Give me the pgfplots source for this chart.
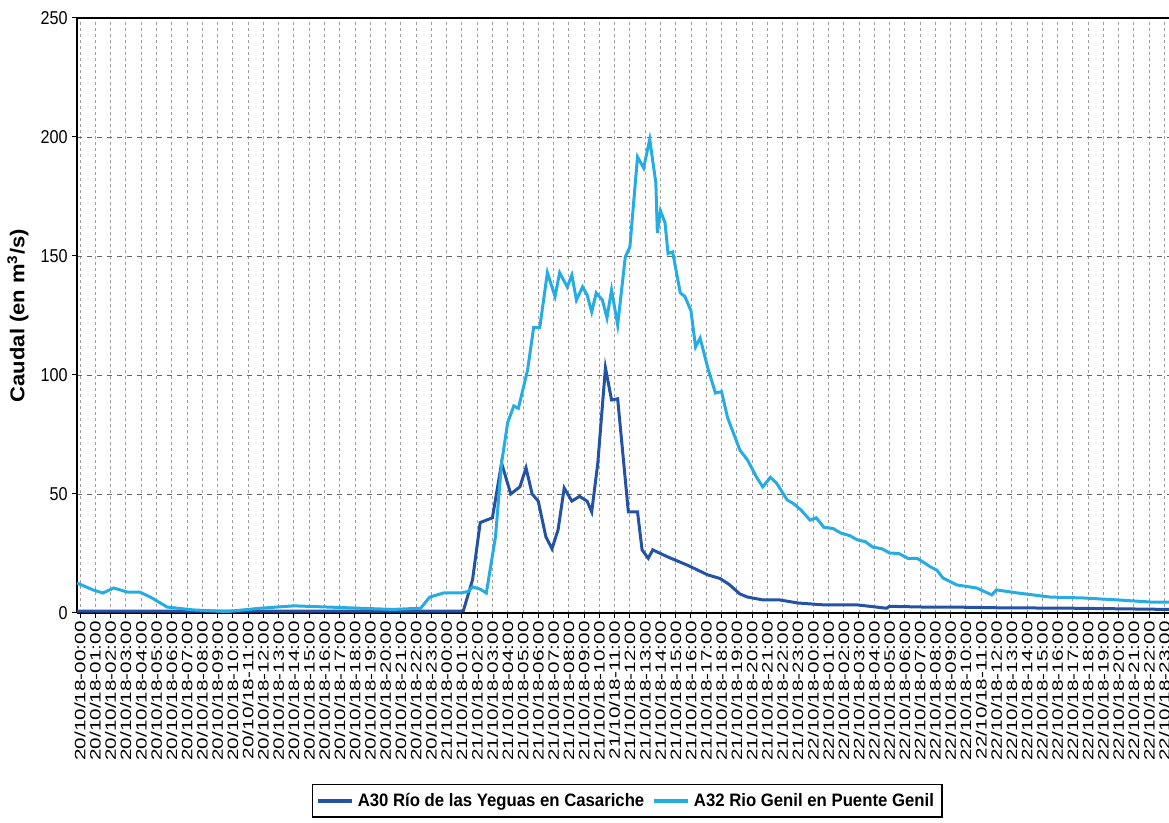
\documentclass[border=0pt]{standalone}
\usepackage{fontspec}
\setmainfont{Liberation Sans}
\newfontfamily\xlab[FakeStretch=1.38]{Liberation Sans}
\newfontfamily\ylab[FakeStretch=0.87]{Liberation Sans}
\newfontfamily\leg[FakeStretch=0.93]{Liberation Sans}
\newfontfamily\ytitle[FakeStretch=1.1]{Liberation Sans}
\usepackage{pgfplots}
\pgfplotsset{compat=1.18}
\definecolor{cA}{RGB}{36,82,164}
\definecolor{cB}{RGB}{38,172,228}

\begin{document}
\begin{tikzpicture}
\path[use as bounding box] (0,0) rectangle (584.5pt,411.5pt);
\begin{axis}[
    at={(38.5pt,105pt)}, anchor=south west,
    scale only axis, width=546pt, height=297.5pt,
    xmin=-0.2, xmax=71.3, ymin=0, ymax=250,
    axis x line*=bottom, axis y line*=left,
    axis line style={black, line width=0.6pt},
    tick align=outside, major tick length=2.5pt,
    tick style={black, line width=0.5pt},
    xtick={0,...,71},
    ytick={0,50,...,250},
    /pgf/number format/assume math mode=true,
    xmajorgrids, ymajorgrids,
    x grid style={gray!75, line width=0.4pt, dash pattern=on 1.5pt off 1.5pt},
    y grid style={gray!80!black, line width=0.45pt, dash pattern=on 2.5pt off 2.5pt},
    xticklabels={20/10/18-00:00,20/10/18-01:00,20/10/18-02:00,20/10/18-03:00,20/10/18-04:00,20/10/18-05:00,20/10/18-06:00,20/10/18-07:00,20/10/18-08:00,20/10/18-09:00,20/10/18-10:00,20/10/18-11:00,20/10/18-12:00,20/10/18-13:00,20/10/18-14:00,20/10/18-15:00,20/10/18-16:00,20/10/18-17:00,20/10/18-18:00,20/10/18-19:00,20/10/18-20:00,20/10/18-21:00,20/10/18-22:00,20/10/18-23:00,21/10/18-00:00,21/10/18-01:00,21/10/18-02:00,21/10/18-03:00,21/10/18-04:00,21/10/18-05:00,21/10/18-06:00,21/10/18-07:00,21/10/18-08:00,21/10/18-09:00,21/10/18-10:00,21/10/18-11:00,21/10/18-12:00,21/10/18-13:00,21/10/18-14:00,21/10/18-15:00,21/10/18-16:00,21/10/18-17:00,21/10/18-18:00,21/10/18-19:00,21/10/18-20:00,21/10/18-21:00,21/10/18-22:00,21/10/18-23:00,22/10/18-00:00,22/10/18-01:00,22/10/18-02:00,22/10/18-03:00,22/10/18-04:00,22/10/18-05:00,22/10/18-06:00,22/10/18-07:00,22/10/18-08:00,22/10/18-09:00,22/10/18-10:00,22/10/18-11:00,22/10/18-12:00,22/10/18-13:00,22/10/18-14:00,22/10/18-15:00,22/10/18-16:00,22/10/18-17:00,22/10/18-18:00,22/10/18-19:00,22/10/18-20:00,22/10/18-21:00,22/10/18-22:00,22/10/18-23:00},
    xticklabel style={rotate=90, anchor=east, inner sep=1.5pt, font=\xlab\fontsize{7.5}{8}\selectfont},
    yticklabel style={inner sep=2pt, font=\ylab\fontsize{9.3}{10}\selectfont},
    ylabel={\ytitle\bfseries Caudal (en m\textsuperscript{3}/s)},
    every axis y label/.style={at={(axis description cs:0,0.5)}, rotate=90, anchor=center, yshift=29.5pt},
    legend columns=2,
    legend style={at={(axis description cs:0.5037,0)}, anchor=center, yshift=-94pt,
        draw=black, line width=0.6pt, inner xsep=2pt, inner ysep=2pt,
        font=\leg\bfseries\fontsize{9}{10}\selectfont,
        /tikz/every even column/.append style={column sep=2pt}},
    legend image code/.code={\draw[#1, line width=1.8pt] (0pt,0pt) -- (17pt,0pt);},
]
\addplot[cA, line width=1.5pt] coordinates {
(-0.2,0.8) (10,0.8) (20,0.8) (24.9,0.8) (25.1,1) (25.7,14) (26.2,38) (27.0,40)
(27.6,63) (28.2,50) (28.8,53) (29.2,61) (29.6,50) (30.0,47) (30.5,32) (30.9,27)
(31.3,35) (31.7,52.5) (32.2,47) (32.7,49) (33.2,47) (33.5,42.5) (33.9,63) (34.4,103)
(34.8,89.5) (35.2,90) (35.9,42.5) (36.5,42.5) (36.8,26.5) (37.2,23) (37.5,26.5)
(38.5,23.5) (39.8,20) (41.1,16) (41.9,14.5) (42.5,12) (43.2,8) (43.7,6.7) (44.7,5.5)
(45.8,5.5) (47.0,4.2) (48.7,3.4) (50.9,3.4) (52.8,2) (53,2.8) (55.2,2.5) (57,2.5)
(60,2.2) (65,2) (71.3,1.5)
};
\addlegendentry{A30 Río de las Yeguas en Casariche}
\addplot[cB, line width=1.5pt] coordinates {
(-0.2,12.6) (0.85,9.7) (1.5,8.4) (2.2,10.5) (3.1,8.8) (3.9,8.8) (4.6,6.7) (5.7,2.5)
(7.4,1.3) (9.6,0.6) (11.8,2) (14.0,3) (16.2,2.5) (18.3,2) (20.5,1.5) (22.3,2)
(22.9,6.7) (23.8,8.4) (24.9,8.4) (25.4,9) (25.7,11) (26.2,10) (26.6,8.4) (27.2,32)
(27.6,63) (28.0,80) (28.4,87) (28.7,86) (29.3,102) (29.7,120) (30.1,120) (30.6,143)
(31.1,133) (31.4,143) (31.9,137) (32.2,142) (32.5,131.5) (32.9,137) (33.2,133.6)
(33.5,126.5) (33.8,134.5) (34.2,131.5) (34.5,124) (34.8,135.7) (35.2,121) (35.7,149.6)
(36.0,153.8) (36.5,191.6) (36.9,187) (37.3,199) (37.7,180.7) (37.8,159.7) (38.0,169)
(38.3,164) (38.5,151) (38.8,151.7) (39.3,134.5) (39.6,133) (40.0,127) (40.3,111.8)
(40.6,115.5) (41.1,103) (41.6,92.4) (42.0,93) (42.4,82) (43.2,68.5) (43.7,64.3)
(44.3,57) (44.7,53) (45.2,57) (45.6,54.6) (46.3,47.5) (46.7,46) (47.2,43.3) (47.8,39)
(48.2,40) (48.7,36) (49.3,35.5) (49.8,33.6) (50.4,32.5) (50.9,30.7) (51.4,30) (51.9,27.7)
(52.5,27) (53.0,25.2) (53.6,25) (54.2,23) (54.8,23) (55.2,21.4) (55.7,19.3) (56.1,18)
(56.5,14.7) (57.4,11.8) (58.7,10.5) (59.7,7.6) (60.0,9.7) (61.4,8.4) (63.5,6.7)
(65.7,6.3) (67.9,5.5) (70.1,4.6) (71.3,4.6)
};
\addlegendentry{A32 Rio Genil en Puente Genil}
\draw[black, line width=0.6pt] (rel axis cs:0,1) -- (rel axis cs:1,1);
\end{axis}
\end{tikzpicture}
\end{document}
